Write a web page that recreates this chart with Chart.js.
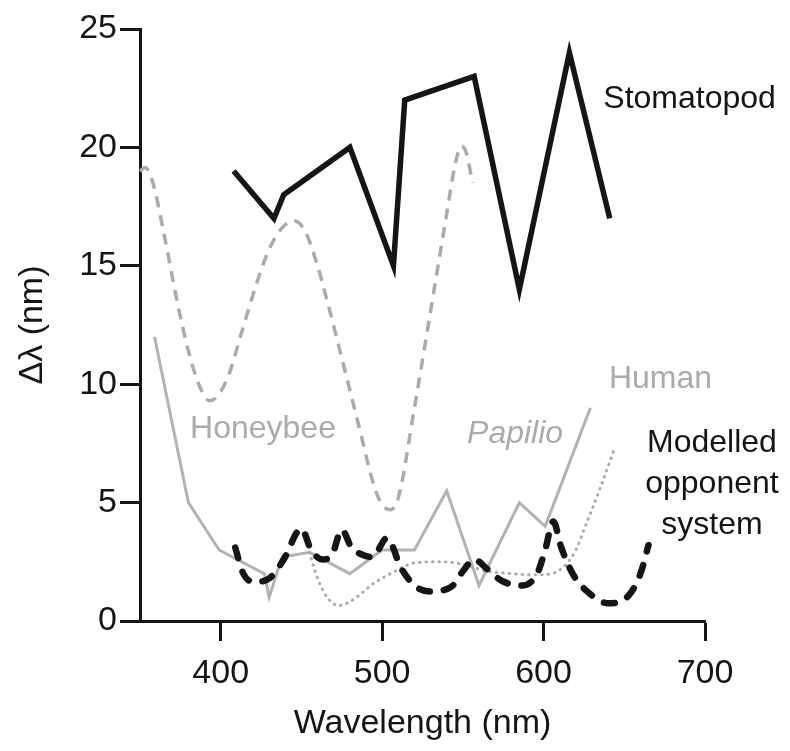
<!DOCTYPE html>
<html>
<head>
    <meta charset="utf-8">
    <title>Wavelength discrimination</title>
    <script src="https://cdn.jsdelivr.net/npm/chart.js"></script>
    <style>
        body { margin: 0; background: #fff; }
    </style>
</head>
<body>
    <canvas id="deltaChart" width="790" height="751"></canvas>
    <script>
        // wavelength (nm) and delta-lambda (nm) for each curve
        const stomatopodNm = [408, 433, 439, 480, 507, 514, 557, 585, 616, 641];
        const stomatopodVal = [19, 17, 18, 20, 15, 22, 23, 14, 24, 17];

        const honeybeeNm = [350, 353, 358, 365, 373, 380, 387, 393, 398, 405, 413, 422, 430, 438, 445, 452, 460, 466,
                            475, 485, 495, 500, 505, 510, 520, 531, 540, 545, 549, 552, 556];
        const honeybeeVal = [19.0, 19.15, 18.5, 16.3, 13.5, 11.4, 9.9, 9.3, 9.5, 10.4, 12.2, 14.2, 15.7, 16.6, 16.9, 16.5, 15.0, 13.5,
                             11.1, 8.4, 5.7, 4.9, 4.7, 5.2, 9.0, 13.5, 17.2, 19.2, 20.05, 19.8, 18.5];

        const humanNm = [359, 380, 399, 427, 430, 438, 455, 480, 500, 520, 540, 560, 585, 601, 629];
        const humanVal = [12, 5, 3, 2, 1, 2.7, 2.9, 2, 3, 3, 5.5, 1.5, 5, 4, 9];

        const papilioNm = [455, 460, 466, 473, 482, 495, 508, 520, 535, 550, 565, 580, 594, 605, 614, 620, 627, 635, 644];
        const papilioVal = [2.9, 1.8, 1.0, 0.65, 0.9, 1.6, 2.1, 2.45, 2.5, 2.4, 2.1, 2.0, 1.95, 2.0, 2.4, 3.0, 4.2, 5.6, 7.3];

        const modelNm = [409, 414, 421, 431, 439, 450, 456, 463, 469, 475, 481, 486, 494, 503, 512, 521, 530, 543,
                         550, 557, 565, 574, 587, 596, 601, 606, 611, 618, 627, 640, 653, 660, 665];
        const modelVal = [3.1, 2.0, 1.65, 1.85, 2.6, 3.9, 3.0, 2.6, 2.8, 3.85, 3.1, 2.85, 2.7, 3.5, 2.2, 1.45, 1.25, 1.45,
                          2.1, 2.6, 2.2, 1.7, 1.5, 2.0, 3.0, 4.2, 3.1, 2.0, 1.25, 0.75, 1.1, 2.0, 3.2];

        const xTicks = [400, 500, 600, 700];
        const yTicks = [0, 5, 10, 15, 20, 25];

        const FONT = '"Liberation Sans", Arial, Helvetica, sans-serif';
        const BLACK = '#151515';
        const GREY = '#ababab';

        function pts(xs, ys) {
            return xs.map((x, i) => ({ x: x, y: ys[i] }));
        }

        // curve names written next to the lines, placed in data units
        const notes = [
            { lines: ['Stomatopod'], x: 637, y: 21.65, color: BLACK, align: 'left' },
            { lines: ['Human'], x: 640.5, y: 9.84, color: GREY, align: 'left' },
            { lines: ['Honeybee'], x: 381, y: 7.72, color: GREY, align: 'left' },
            { lines: ['Papilio'], x: 552.6, y: 7.51, color: GREY, align: 'left', italic: true },
            { lines: ['Modelled', 'opponent', 'system'], x: 704.3, y: 7.13, color: BLACK, align: 'center' }
        ];

        const notesPlugin = {
            id: 'notes',
            afterDatasetsDraw(chart) {
                const ctx = chart.ctx;
                const xs = chart.scales.x, ys = chart.scales.y;
                ctx.save();
                ctx.textBaseline = 'alphabetic';
                notes.forEach(n => {
                    ctx.font = (n.italic ? 'italic ' : '') + '32px ' + FONT;
                    ctx.fillStyle = n.color;
                    ctx.textAlign = n.align;
                    const px = xs.getPixelForValue(n.x);
                    const py = ys.getPixelForValue(n.y);
                    n.lines.forEach((t, i) => ctx.fillText(t, px, py + i * 41));
                });
                ctx.restore();
            }
        };

        const axisCommon = {
            border: { display: true, width: 3, color: BLACK },
            grid: { display: true, drawOnChartArea: false, drawTicks: true, tickLength: 20, tickWidth: 3, tickColor: BLACK }
        };

        new Chart(document.getElementById('deltaChart').getContext('2d'), {
            type: 'line',
            data: {
                datasets: [
                    {
                        label: 'Stomatopod',
                        data: pts(stomatopodNm, stomatopodVal),
                        borderColor: BLACK,
                        borderWidth: 5.5,
                        borderJoinStyle: 'miter',
                        tension: 0
                    },
                    {
                        label: 'Modelled opponent system',
                        data: pts(modelNm, modelVal),
                        borderColor: BLACK,
                        borderWidth: 6.5,
                        borderDash: [11, 14],
                        borderCapStyle: 'round',
                        cubicInterpolationMode: 'monotone'
                    },
                    {
                        label: 'Papilio',
                        data: pts(papilioNm, papilioVal),
                        borderColor: GREY,
                        borderWidth: 3,
                        borderDash: [0.5, 6],
                        borderCapStyle: 'round',
                        cubicInterpolationMode: 'monotone'
                    },
                    {
                        label: 'Human',
                        data: pts(humanNm, humanVal),
                        borderColor: '#b3b3b3',
                        borderWidth: 3,
                        tension: 0
                    },
                    {
                        label: 'Honeybee',
                        data: pts(honeybeeNm, honeybeeVal),
                        borderColor: GREY,
                        borderWidth: 3.5,
                        borderDash: [11, 8],
                        cubicInterpolationMode: 'monotone'
                    }
                ]
            },
            options: {
                responsive: false,
                animation: false,
                devicePixelRatio: 1,
                layout: { padding: { left: 0, top: 29, right: 85, bottom: 0 } },
                elements: { point: { radius: 0 }, line: { fill: false } },
                datasets: { line: { clip: false } },
                plugins: { legend: { display: false }, tooltip: { enabled: false } },
                scales: {
                    x: {
                        ...axisCommon,
                        type: 'linear',
                        min: 350,
                        max: 700,
                        afterBuildTicks: s => { s.ticks = xTicks.map(v => ({ value: v })); },
                        afterFit: s => { s.height = 130; },
                        ticks: { color: BLACK, padding: 12, font: { family: FONT, size: 34 } },
                        title: { display: true, text: 'Wavelength (nm)', color: BLACK, padding: { top: 0, bottom: 7 },
                                 font: { family: FONT, size: 34 } }
                    },
                    y: {
                        ...axisCommon,
                        type: 'linear',
                        min: 0,
                        max: 25,
                        afterBuildTicks: s => { s.ticks = yTicks.map(v => ({ value: v })); },
                        afterFit: s => { s.width = 140; },
                        ticks: { color: BLACK, padding: 3, font: { family: FONT, size: 34 } },
                        title: { display: true, text: 'Δλ (nm)', color: BLACK, padding: { top: 12, bottom: 0 },
                                 font: { family: FONT, size: 34 } }
                    }
                }
            },
            plugins: [notesPlugin]
        });
    </script>
</body>
</html>
